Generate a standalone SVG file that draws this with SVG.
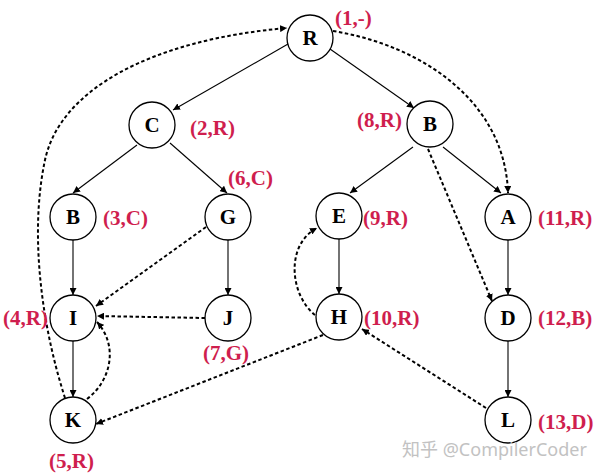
<svg xmlns="http://www.w3.org/2000/svg" width="600" height="476" viewBox="0 0 600 476">
<style>
.node circle{fill:#fff;stroke:#000;stroke-width:1.3}
.node text{font-family:"Liberation Serif","Times New Roman",serif;font-weight:bold;font-size:21px;text-anchor:middle;fill:#000}
.lbl{font-family:"Liberation Serif","Times New Roman",serif;font-weight:bold;font-size:21px;fill:#cf1e4e}
.solid{fill:none;stroke:#000;stroke-width:1.1;marker-end:url(#ah)}
.dash{fill:none;stroke:#000;stroke-width:2;stroke-dasharray:3.5,2.5;marker-end:url(#ah)}
.wm{font-family:"Noto Sans","Noto Sans CJK SC",sans-serif;font-size:18px;fill:#c2c2c2}
</style>
<defs>
<marker id="ah" markerUnits="userSpaceOnUse" markerWidth="8" markerHeight="7" refX="7" refY="3.5" orient="auto">
<path d="M0,0 L7,3.5 L0,7 Z" fill="#000"/>
</marker>
</defs>
<rect width="600" height="476" fill="#fff"/>
<g id="connectors">
<path class="solid" d="M288,44 L173,110"/>
<path class="solid" d="M330,49 L414,108"/>
<path class="solid" d="M137,145 L73,193"/>
<path class="solid" d="M170,143 L227,193"/>
<path class="solid" d="M413,147 L350,193"/>
<path class="solid" d="M443,147 L501,193"/>
<path class="solid" d="M73,240 L73,295"/>
<path class="solid" d="M228,240 L228,295"/>
<path class="solid" d="M339,239 L339,294"/>
<path class="solid" d="M508,240 L508,295"/>
<path class="solid" d="M73,341 L73,397"/>
<path class="solid" d="M508,341 L508,397"/>
<path class="dash" d="M65,398 C40,320 30,230 45,160 C60,90 150,40 287,28"/>
<path class="dash" d="M333,31 C420,45 505,100 508,193"/>
<path class="dash" d="M206,227 L96,306"/>
<path class="dash" d="M205,318 L97,316"/>
<path class="dash" d="M87,399 C112,380 118,345 97,322"/>
<path class="dash" d="M323,335 L96,424"/>
<path class="dash" d="M486,408 L362,329"/>
<path class="dash" d="M428,149 L492,301"/>
<path class="dash" d="M315,315 C290,295 285,245 317,228"/>
</g>
<g id="node-R" class="node"><circle cx="310" cy="38" r="23"/><text x="310" y="45">R</text></g>
<g id="node-C" class="node"><circle cx="152" cy="125" r="23"/><text x="152" y="132">C</text></g>
<g id="node-B1" class="node"><circle cx="73" cy="217" r="23"/><text x="73" y="224">B</text></g>
<g id="node-G" class="node"><circle cx="228" cy="217" r="23"/><text x="228" y="224">G</text></g>
<g id="node-B2" class="node"><circle cx="430" cy="124" r="23"/><text x="430" y="131">B</text></g>
<g id="node-E" class="node"><circle cx="339" cy="216" r="23"/><text x="339" y="223">E</text></g>
<g id="node-A" class="node"><circle cx="508" cy="217" r="23"/><text x="508" y="224">A</text></g>
<g id="node-I" class="node"><circle cx="73" cy="318" r="23"/><text x="73" y="325">I</text></g>
<g id="node-J" class="node"><circle cx="228" cy="318" r="23"/><text x="228" y="325">J</text></g>
<g id="node-H" class="node"><circle cx="339" cy="317" r="23"/><text x="339" y="324">H</text></g>
<g id="node-D" class="node"><circle cx="508" cy="318" r="23"/><text x="508" y="325">D</text></g>
<g id="node-K" class="node"><circle cx="73" cy="420" r="23"/><text x="73" y="427">K</text></g>
<g id="node-L" class="node"><circle cx="508" cy="420" r="23"/><text x="508" y="427">L</text></g>
<g id="labels">
<text class="lbl" x="335" y="25">(1,-)</text>
<text class="lbl" x="190" y="135">(2,R)</text>
<text class="lbl" x="228" y="185">(6,C)</text>
<text class="lbl" x="103" y="225">(3,C)</text>
<text class="lbl" x="357" y="127">(8,R)</text>
<text class="lbl" x="363" y="225">(9,R)</text>
<text class="lbl" x="538" y="225">(11,R)</text>
<text class="lbl" x="3" y="325">(4,R)</text>
<text class="lbl" x="203" y="360">(7,G)</text>
<text class="lbl" x="49" y="468">(5,R)</text>
<text class="lbl" x="364" y="325">(10,R)</text>
<text class="lbl" x="538" y="325">(12,B)</text>
<text class="lbl" x="538" y="429">(13,D)</text>
</g>
<text class="wm" x="402" y="456">知乎 @CompilerCoder</text>
</svg>
